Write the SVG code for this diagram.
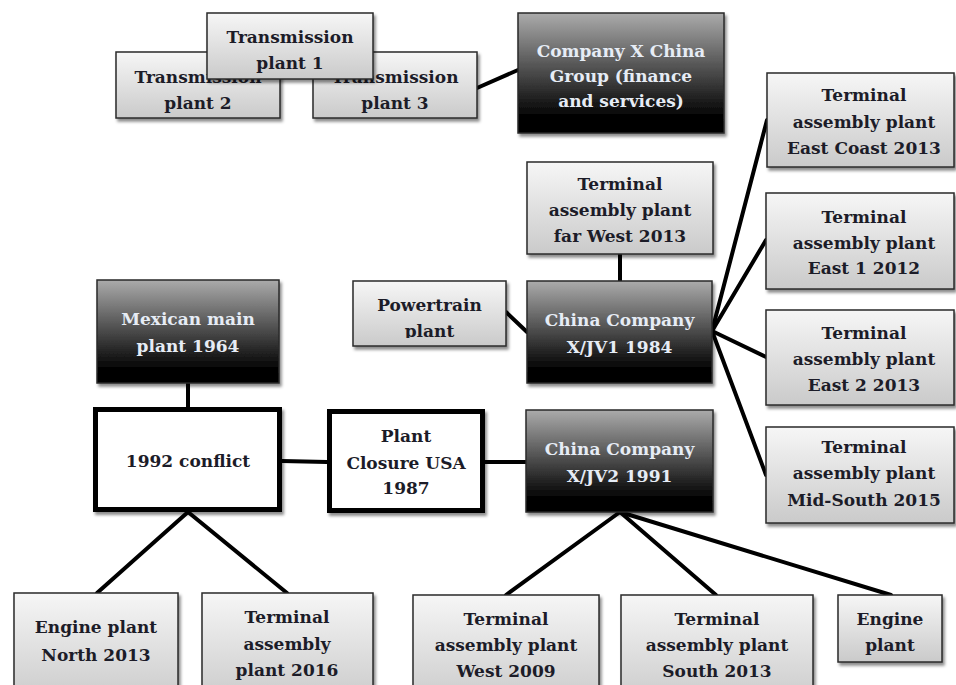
<svg xmlns="http://www.w3.org/2000/svg" width="956" height="685" viewBox="0 0 956 685">
<defs>
<linearGradient id="lg" x1="0" y1="0" x2="0" y2="1">
<stop offset="0" stop-color="#f6f6f6"/>
<stop offset="1" stop-color="#cacaca"/>
</linearGradient>
<linearGradient id="dg" x1="0" y1="0" x2="0" y2="1">
<stop offset="0" stop-color="#ababab"/>
<stop offset="0.85" stop-color="#050505"/>
<stop offset="1" stop-color="#000"/>
</linearGradient>
<filter id="sh" x="-10%" y="-10%" width="130%" height="130%">
<feDropShadow dx="2" dy="3" stdDeviation="1.5" flood-color="#000" flood-opacity="0.45"/>
</filter>
<clipPath id="ptclip"><rect x="353" y="281" width="153" height="57"/></clipPath>
<style>
.l{fill:url(#lg);stroke:#2a2a2a;stroke-width:1.5;filter:url(#sh)}
.d{fill:url(#dg);stroke:#2a2a2a;stroke-width:1.5;filter:url(#sh)}
.w{fill:#fff;stroke:#000;stroke-width:5;filter:url(#sh)}
text{font-family:"DejaVu Serif","Liberation Serif",serif;font-weight:bold;font-size:17px;text-anchor:middle}
.tl{fill:#1c1c28}
.td{fill:#e6ecf5}
.c{stroke:#000;stroke-width:4;fill:none;stroke-linecap:round}
</style>
</defs>
<rect width="956" height="685" fill="#fff"/>
<g id="connectors">
<line class="c" x1="477" y1="88" x2="518" y2="70"/>
<line class="c" x1="620" y1="254" x2="620" y2="281"/>
<line class="c" x1="506" y1="312" x2="527" y2="332"/>
<line class="c" x1="712" y1="331" x2="767" y2="120"/>
<line class="c" x1="712" y1="331" x2="766" y2="240"/>
<line class="c" x1="712" y1="331" x2="766" y2="357"/>
<line class="c" x1="712" y1="331" x2="766" y2="475"/>
<line class="c" x1="188" y1="383" x2="188" y2="407"/>
<line class="c" x1="282" y1="461" x2="327" y2="462"/>
<line class="c" x1="485" y1="462" x2="526" y2="462"/>
<line class="c" x1="188" y1="512" x2="97" y2="593"/>
<line class="c" x1="188" y1="512" x2="287" y2="593"/>
<line class="c" x1="620" y1="512" x2="506" y2="595"/>
<line class="c" x1="620" y1="512" x2="716" y2="595"/>
<line class="c" x1="620" y1="512" x2="891" y2="595"/>
</g>
<g id="transmission2">
<rect class="l" x="116" y="52" width="164" height="66"/>
<text class="tl" x="198" y="83">Transmission</text>
<text class="tl" x="198" y="109">plant 2</text>
</g>
<g id="transmission3">
<rect class="l" x="313" y="52" width="164" height="66"/>
<text class="tl" x="395" y="83">Transmission</text>
<text class="tl" x="395" y="109">plant 3</text>
</g>
<g id="transmission1">
<rect class="l" x="207" y="13" width="166" height="66"/>
<text class="tl" x="290" y="43">Transmission</text>
<text class="tl" x="290" y="69">plant 1</text>
</g>
<g id="companyXChinaGroup">
<rect class="d" x="518" y="13" width="206" height="120"/>
<text class="td" x="621" y="57">Company X China</text>
<text class="td" x="621" y="82">Group (finance</text>
<text class="td" x="621" y="107">and services)</text>
</g>
<g id="terminalFarWest">
<rect class="l" x="527" y="162" width="186" height="92"/>
<text class="tl" x="620" y="190">Terminal</text>
<text class="tl" x="620" y="216">assembly plant</text>
<text class="tl" x="620" y="242">far West 2013</text>
</g>
<g id="powertrain">
<rect class="l" x="353" y="281" width="153" height="65"/>
<g clip-path="url(#ptclip)">
<text class="tl" x="429.5" y="311">Powertrain</text>
<text class="tl" x="429.5" y="337">plant</text>
</g>
</g>
<g id="jv1">
<rect class="d" x="527" y="281" width="185" height="102"/>
<text class="td" x="619.5" y="326">China Company</text>
<text class="td" x="619.5" y="353">X/JV1 1984</text>
</g>
<g id="eastCoast">
<rect class="l" x="767" y="73" width="187" height="94"/>
<text class="tl" x="864" y="101">Terminal</text>
<text class="tl" x="864" y="128">assembly plant</text>
<text class="tl" x="864" y="154">East Coast 2013</text>
</g>
<g id="east1">
<rect class="l" x="766" y="193" width="188" height="96"/>
<text class="tl" x="864" y="223">Terminal</text>
<text class="tl" x="864" y="249">assembly plant</text>
<text class="tl" x="864" y="274">East 1 2012</text>
</g>
<g id="east2">
<rect class="l" x="766" y="310" width="188" height="95"/>
<text class="tl" x="864" y="339">Terminal</text>
<text class="tl" x="864" y="365">assembly plant</text>
<text class="tl" x="864" y="391">East 2 2013</text>
</g>
<g id="midSouth">
<rect class="l" x="766" y="427" width="188" height="96"/>
<text class="tl" x="864" y="453">Terminal</text>
<text class="tl" x="864" y="479">assembly plant</text>
<text class="tl" x="864" y="506">Mid-South 2015</text>
</g>
<g id="mexicanMain">
<rect class="d" x="97" y="280" width="182" height="103"/>
<text class="td" x="188" y="325">Mexican main</text>
<text class="td" x="188" y="352">plant 1964</text>
</g>
<g id="conflict1992">
<rect class="w" x="95.5" y="409.5" width="184" height="100"/>
<text class="tl" x="188" y="467">1992 conflict</text>
</g>
<g id="plantClosure">
<rect class="w" x="329.5" y="411.5" width="153" height="99"/>
<text class="tl" x="406" y="442">Plant</text>
<text class="tl" x="406" y="469">Closure USA</text>
<text class="tl" x="406" y="494">1987</text>
</g>
<g id="jv2">
<rect class="d" x="526" y="410" width="187" height="102"/>
<text class="td" x="619.5" y="455">China Company</text>
<text class="td" x="619.5" y="482">X/JV2 1991</text>
</g>
<g id="engineNorth">
<rect class="l" x="14" y="593" width="164" height="110"/>
<text class="tl" x="96" y="633">Engine plant</text>
<text class="tl" x="96" y="661">North 2013</text>
</g>
<g id="terminal2016">
<rect class="l" x="202" y="593" width="171" height="110"/>
<text class="tl" x="287" y="623">Terminal</text>
<text class="tl" x="287" y="650">assembly</text>
<text class="tl" x="287" y="676">plant 2016</text>
</g>
<g id="west2009">
<rect class="l" x="413" y="595" width="186" height="110"/>
<text class="tl" x="506" y="625">Terminal</text>
<text class="tl" x="506" y="651">assembly plant</text>
<text class="tl" x="506" y="677">West 2009</text>
</g>
<g id="south2013">
<rect class="l" x="621" y="595" width="192" height="110"/>
<text class="tl" x="717" y="625">Terminal</text>
<text class="tl" x="717" y="651">assembly plant</text>
<text class="tl" x="717" y="677">South 2013</text>
</g>
<g id="enginePlant">
<rect class="l" x="838" y="595" width="104" height="67"/>
<text class="tl" x="890" y="625">Engine</text>
<text class="tl" x="890" y="651">plant</text>
</g>
</svg>
